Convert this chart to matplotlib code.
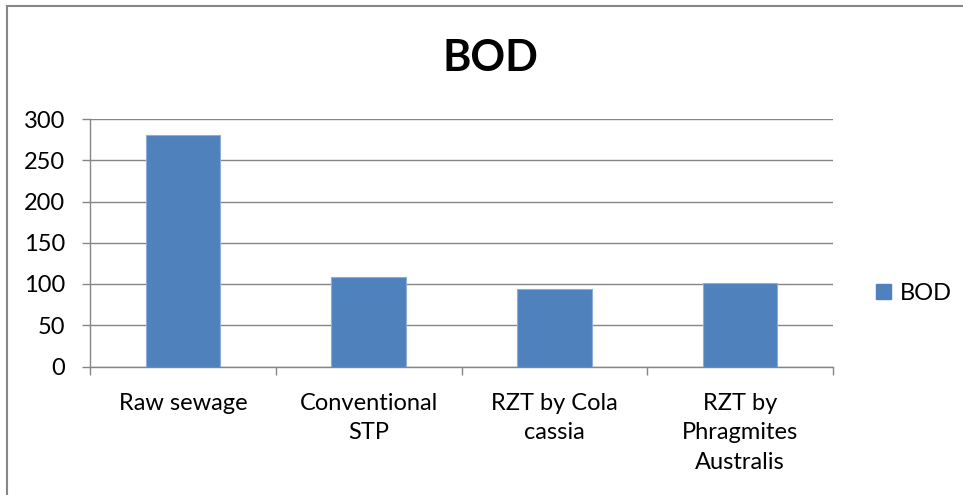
import matplotlib
matplotlib.use("Agg")
import matplotlib.pyplot as plt
from matplotlib.patches import Patch
from matplotlib.lines import Line2D

categories = ["Raw sewage", "Conventional\nSTP", "RZT by Cola\ncassia", "RZT by\nPhragmites\nAustralis"]
bod_values = [280, 108, 94, 101]
series_name = "BOD"
y_ticks = [0, 50, 100, 150, 200, 250, 300]

plt.rcParams['font.family'] = ['Lato', 'DejaVu Sans']

W, H = 963, 495
fig = plt.figure(figsize=(W / 100, H / 100), dpi=100)
ax = fig.add_axes([90 / W, 1 - 366.5 / H, (833 - 90) / W, (366.5 - 119) / H])

grid_col = "#868686"
bar_col = "#4F81BD"
fs = 17

x = list(range(len(categories)))
ax.bar(x, bod_values, width=0.4, color=bar_col, edgecolor="#8EACD6", linewidth=0.8, zorder=3)
ax.set_xlim(-0.5, len(categories) - 0.5)
ax.set_ylim(0, 300)
ax.set_yticks(y_ticks)
ax.set_yticklabels([str(v) for v in y_ticks], fontsize=fs, color="#000000")
ax.yaxis.grid(True, color=grid_col, linewidth=1.0, zorder=0)
ax.set_axisbelow(True)

ax.set_xticks([i + 0.5 for i in range(-1, len(categories))])
ax.set_xticklabels([])
ax.set_xticks(x, minor=True)
ax.set_xticklabels(categories, minor=True, fontsize=fs, linespacing=1.5, va="top")
ax.tick_params(axis="x", which="minor", length=0, pad=19)
ax.tick_params(axis="x", which="major", length=5.5, color=grid_col, width=1, direction="out")
ax.tick_params(axis="y", length=6, color=grid_col, width=1, direction="out", pad=12)

for s in ["top", "right"]:
    ax.spines[s].set_visible(False)
ax.spines["left"].set_color(grid_col)
ax.spines["bottom"].set_color(grid_col)
ax.spines["left"].set_linewidth(1)
ax.spines["bottom"].set_linewidth(1)

fig.text(490 / W, 1 - 58 / H, "BOD", fontsize=31, fontweight="bold", ha="center", va="center")

handles = [Patch(facecolor=bar_col, edgecolor=bar_col, label=series_name)]
fig.legend(handles=handles, loc="center left", bbox_to_anchor=(876 / W, 1 - 293 / H),
           frameon=False, fontsize=fs, handlelength=0.62, handleheight=0.62, handletextpad=0.4,
           borderpad=0, borderaxespad=0)

# outer chart border (left and top visible)
fig.add_artist(Line2D([6.5 / W, 6.5 / W], [0, 1 - 6 / H], transform=fig.transFigure, color=grid_col, linewidth=1.5))
fig.add_artist(Line2D([6.5 / W, 1], [1 - 6 / H, 1 - 6 / H], transform=fig.transFigure, color=grid_col, linewidth=1.5))

fig.savefig("out.png", dpi=100)
